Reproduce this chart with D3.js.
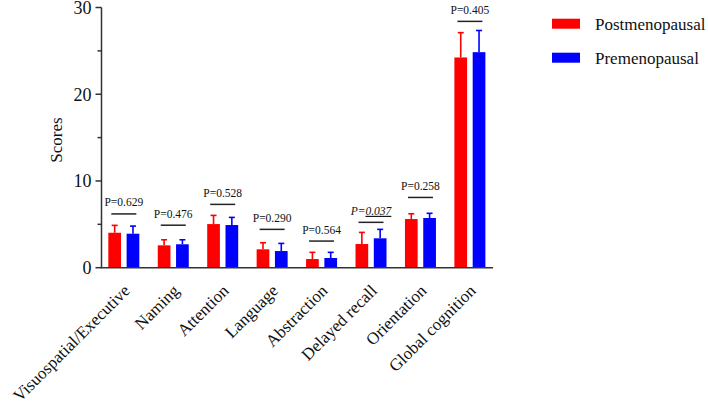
<!DOCTYPE html>
<html>
<head>
<meta charset="utf-8">
<script src="https://cdn.jsdelivr.net/npm/d3@7"></script>
<style>
  html, body { margin: 0; padding: 0; background: #fff; }
</style>
</head>
<body>
<svg id="chart" width="708" height="411" font-family="Liberation Serif, DejaVu Serif, serif"></svg>
<script>
const categories = ["Visuospatial/Executive", "Naming", "Attention", "Language", "Abstraction", "Delayed recall", "Orientation", "Global cognition"];
const seriesNames = ["Postmenopausal", "Premenopausal"];
const postValues = [4.03, 2.58, 5.03, 2.12, 1.0, 2.73, 5.61, 24.24];
const postErr = [0.85, 0.64, 1.0, 0.76, 0.77, 1.34, 0.61, 2.86];
const preValues = [3.92, 2.70, 4.92, 1.92, 1.12, 3.39, 5.73, 24.85];
const preErr = [0.88, 0.52, 0.88, 0.88, 0.65, 1.03, 0.54, 2.50];
const pLabels = ["0.629", "0.476", "0.528", "0.290", "0.564", "0.037", "0.258", "0.405"];
const pSignificant = [false, false, false, false, false, true, false, false];
const pBracket = [6.2, 4.9, 7.3, 4.42, 3.07, 5.23, 8.1, 28.4];
const yTicksMajor = [0, 10, 20, 30];
const yTicksMinor = [5, 15, 25];
const colors = ["#FF0000", "#0000FF"];

const svg = d3.select("#chart");
const txtColor = "#111";
const axisX = 101.5, baseY = 267.7, topY = 7.5, axisEnd = 493;

const x = d3.scaleBand().domain(categories).range([99.1, 494.6]).paddingInner(0).paddingOuter(0);
const xs = d3.scaleBand().domain(seriesNames).range([-15.5, 15.5]).paddingInner(0.306).paddingOuter(0);
const y = d3.scaleLinear().domain([0, 30]).range([baseY, topY]);
const color = d3.scaleOrdinal().domain(seriesNames).range(colors);

const rows = categories.map((c, i) => ({
  cat: c,
  vals: [
    {s: seriesNames[0], v: postValues[i], e: postErr[i]},
    {s: seriesNames[1], v: preValues[i], e: preErr[i]}
  ]
}));

// bars
const g = svg.append("g");
const grp = g.selectAll("g.grp").data(rows).join("g")
  .attr("transform", d => `translate(${x(d.cat) + x.bandwidth() / 2},0)`);

grp.selectAll("rect").data(d => d.vals).join("rect")
  .attr("x", d => xs(d.s))
  .attr("width", xs.bandwidth())
  .attr("y", d => y(d.v))
  .attr("height", d => y(0) - y(d.v))
  .attr("fill", d => color(d.s));

// error bars (upward)
grp.selectAll("line.err").data(d => d.vals).join("line")
  .attr("class", "err")
  .attr("x1", d => xs(d.s) + xs.bandwidth() / 2)
  .attr("x2", d => xs(d.s) + xs.bandwidth() / 2)
  .attr("y1", d => y(d.v))
  .attr("y2", d => y(d.v + d.e))
  .attr("stroke", d => color(d.s)).attr("stroke-width", 1.6);
grp.selectAll("line.cap").data(d => d.vals).join("line")
  .attr("class", "cap")
  .attr("x1", d => xs(d.s) + xs.bandwidth() / 2 - 3)
  .attr("x2", d => xs(d.s) + xs.bandwidth() / 2 + 3)
  .attr("y1", d => y(d.v + d.e))
  .attr("y2", d => y(d.v + d.e))
  .attr("stroke", d => color(d.s)).attr("stroke-width", 1.6);

// p brackets
rows.forEach((d, i) => {
  const cx = x(d.cat) + x.bandwidth() / 2;
  const yy = y(pBracket[i]);
  svg.append("line")
    .attr("x1", cx - 12.5).attr("x2", cx + 12.5)
    .attr("y1", yy).attr("y2", yy)
    .attr("stroke", "#222").attr("stroke-width", 1.5);
  const t = svg.append("text")
    .attr("x", cx).attr("y", yy - 7.5)
    .attr("text-anchor", "middle")
    .attr("fill", txtColor)
    .attr("font-size", 11.5);
  if (pSignificant[i]) {
    t.attr("font-style", "italic");
    t.append("tspan").text("P=");
    t.append("tspan").attr("text-decoration", "underline").text(pLabels[i]);
  } else {
    t.text("P=" + pLabels[i]);
  }
});

// y axis
svg.append("line")
  .attr("x1", axisX).attr("x2", axisX)
  .attr("y1", y(30)).attr("y2", y(0))
  .attr("stroke", "#333").attr("stroke-width", 1.5);
svg.selectAll("line.ymaj").data(yTicksMajor).join("line")
  .attr("x1", axisX - 6).attr("x2", axisX)
  .attr("y1", d => y(d)).attr("y2", d => y(d))
  .attr("stroke", "#333").attr("stroke-width", 1.5);
svg.selectAll("line.ymin").data(yTicksMinor).join("line")
  .attr("x1", axisX - 4).attr("x2", axisX)
  .attr("y1", d => y(d)).attr("y2", d => y(d))
  .attr("stroke", "#333").attr("stroke-width", 1.5);
svg.selectAll("text.ytl").data(yTicksMajor).join("text")
  .attr("x", axisX - 10).attr("y", d => y(d))
  .attr("dy", "0.36em")
  .attr("text-anchor", "end")
  .attr("fill", txtColor)
  .attr("font-size", 18)
  .text(d => d);

svg.append("text")
  .attr("transform", `translate(62,140) rotate(-90)`)
  .attr("text-anchor", "middle")
  .attr("fill", txtColor)
  .attr("font-size", 17)
  .text("Scores");

// x axis
svg.append("line")
  .attr("x1", axisX - 0.75).attr("x2", axisEnd)
  .attr("y1", baseY).attr("y2", baseY)
  .attr("stroke", "#333").attr("stroke-width", 1.5);

svg.selectAll("text.xl").data(categories).join("text")
  .attr("transform", d => `translate(${x(d) + x.bandwidth() / 2 + 7},${baseY + 24}) rotate(-45)`)
  .attr("text-anchor", "end")
  .attr("fill", txtColor)
  .attr("font-size", 17)
  .text(d => d);

// legend
const lg = svg.append("g").selectAll("g").data(seriesNames).join("g")
  .attr("transform", (d, i) => `translate(552,${18.7 + i * 34})`);
lg.append("rect").attr("width", 28).attr("height", 10).attr("fill", d => color(d));
lg.append("text").attr("x", 43).attr("y", 5).attr("dy", "0.35em")
  .attr("fill", txtColor)
  .attr("font-size", 17).text(d => d);
</script>
</body>
</html>
